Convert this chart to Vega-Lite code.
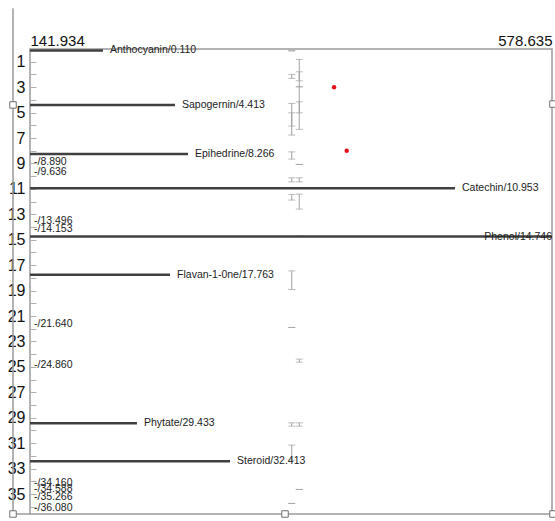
{
  "$schema": "https://vega.github.io/schema/vega-lite/v6.json",
  "width": 522,
  "height": 465,
  "autosize": {"type": "none"},
  "padding": {"left": 30, "top": 49, "right": 3, "bottom": 7},
  "background": "white",
  "config": {
    "view": {"stroke": "#9a9a9a", "strokeWidth": 1.5},
    "font": "Liberation Sans",
    "axis": {"labelOverlap": false, "labelBound": false}
  },
  "datasets": {
    "frame": [
      {"x": 127.712, "x2": 127.712, "y": -3.2, "y2": 36.57},
      {"x": 127.712, "x2": 141.934, "y": 36.57, "y2": 36.57}
    ],
    "handles": [
      {"x": 127.712, "y": 4.4},
      {"x": 127.712, "y": 36.57},
      {"x": 355.26, "y": 36.57},
      {"x": 579.47, "y": 36.57},
      {"x": 579.47, "y": 4.33}
    ],
    "peaks": [
      {"name": "Anthocyanin", "y": 0.110, "x": 203.0, "label": "Anthocyanin/0.110"},
      {"name": "Sapogernin", "y": 4.413, "x": 263.2, "label": "Sapogernin/4.413"},
      {"name": "Epihedrine", "y": 8.266, "x": 274.1, "label": "Epihedrine/8.266"},
      {"name": "Catechin", "y": 10.953, "x": 497.5, "label": "Catechin/10.953"},
      {"name": "Phenol", "y": 14.746, "x": 578.635, "label": "Phenol/14.746"},
      {"name": "Flavan-1-0ne", "y": 17.763, "x": 259.1, "label": "Flavan-1-0ne/17.763"},
      {"name": "Phytate", "y": 29.433, "x": 231.4, "label": "Phytate/29.433"},
      {"name": "Steroid", "y": 32.413, "x": 309.3, "label": "Steroid/32.413"}
    ],
    "minor": [
      {"y": 8.890, "label": "-/8.890"},
      {"y": 9.636, "label": "-/9.636"},
      {"y": 13.496, "label": "-/13.496"},
      {"y": 14.153, "label": "-/14.153"},
      {"y": 21.640, "label": "-/21.640"},
      {"y": 24.860, "label": "-/24.860"},
      {"y": 34.160, "label": "-/34.160"},
      {"y": 34.588, "label": "-/34.588"},
      {"y": 35.266, "label": "-/35.266"},
      {"y": 36.080, "label": "-/36.080"}
    ],
    "bars": [
      {"x": 360.9, "y": 0.14, "y2": 0.14},
      {"x": 360.9, "y": 2.00, "y2": 2.31},
      {"x": 360.9, "y": 4.28, "y2": 6.06},
      {"x": 360.9, "y": 5.02, "y2": 6.77},
      {"x": 360.9, "y": 8.09, "y2": 8.66},
      {"x": 360.9, "y": 10.13, "y2": 10.45},
      {"x": 360.9, "y": 11.44, "y2": 11.88},
      {"x": 360.9, "y": 17.45, "y2": 18.91},
      {"x": 360.9, "y": 21.90, "y2": 21.90},
      {"x": 360.9, "y": 29.40, "y2": 29.66},
      {"x": 360.9, "y": 31.15, "y2": 32.33},
      {"x": 360.9, "y": 35.74, "y2": 35.74},
      {"x": 367.2, "y": 0.82, "y2": 2.50},
      {"x": 367.2, "y": 1.79, "y2": 2.97},
      {"x": 367.2, "y": 2.97, "y2": 5.02},
      {"x": 367.2, "y": 4.15, "y2": 6.32},
      {"x": 367.2, "y": 9.08, "y2": 9.08},
      {"x": 367.2, "y": 10.13, "y2": 10.45},
      {"x": 367.2, "y": 11.41, "y2": 12.59},
      {"x": 367.2, "y": 14.72, "y2": 14.72},
      {"x": 367.2, "y": 24.39, "y2": 24.63},
      {"x": 367.2, "y": 29.40, "y2": 29.66},
      {"x": 367.2, "y": 34.64, "y2": 34.64}
    ],
    "dots": [
      {"x": 396.3, "y": 3.00},
      {"x": 406.9, "y": 8.01}
    ]
  },
  "layer": [
    {
      "data": {"name": "frame"},
      "mark": {"type": "rule", "color": "#9a9a9a", "strokeWidth": 1.5},
      "encoding": {
        "x": {
          "field": "x", "type": "quantitative",
          "scale": {"domain": [141.934, 578.635], "nice": false, "zero": false},
          "axis": {
            "orient": "top", "values": [141.934, 578.635], "format": ".3f",
            "labelFlush": true, "ticks": false, "domain": false, "grid": false,
            "labelFontSize": 15, "labelColor": "#111111", "labelPadding": 1,
            "title": null, "labelOverlap": false, "tickCount": 100
          }
        },
        "x2": {"field": "x2"},
        "y": {
          "field": "y", "type": "quantitative",
          "scale": {"domain": [0, 36.57], "nice": false, "zero": false, "reverse": true},
          "axis": {
            "values": [1,2,3,4,5,6,7,8,9,10,11,12,13,14,15,16,17,18,19,20,21,22,23,24,25,26,27,28,29,30,31,32,33,34,35,36],
            "tickCount": 100,
            "format": "d",
            "labelExpr": "datum.value % 2 == 1 ? datum.label : ''",
            "tickSize": -6, "tickColor": "#b0b0b0", "tickWidth": 1,
            "domain": false, "grid": false, "title": null,
            "labelFontSize": 16, "labelColor": "#111111", "labelPadding": 11,
            "labelOverlap": false
          }
        },
        "y2": {"field": "y2"}
      }
    },
    {
      "data": {"name": "bars"},
      "mark": {"type": "rule", "color": "#a0a0a0", "strokeWidth": 1},
      "encoding": {
        "x": {"field": "x", "type": "quantitative", "scale": {"domain": [141.934, 578.635], "nice": false, "zero": false}, "title": null},
        "y": {"field": "y", "type": "quantitative", "scale": {"domain": [0, 36.57], "nice": false, "zero": false, "reverse": true}, "title": null},
        "y2": {"field": "y2"}
      }
    },
    {
      "data": {"name": "bars"},
      "mark": {"type": "tick", "orient": "horizontal", "color": "#a0a0a0", "size": 7, "thickness": 1},
      "encoding": {
        "x": {"field": "x", "type": "quantitative", "scale": {"domain": [141.934, 578.635], "nice": false, "zero": false}, "title": null},
        "y": {"field": "y", "type": "quantitative", "scale": {"domain": [0, 36.57], "nice": false, "zero": false, "reverse": true}, "title": null}
      }
    },
    {
      "data": {"name": "bars"},
      "mark": {"type": "tick", "orient": "horizontal", "color": "#a0a0a0", "size": 7, "thickness": 1},
      "encoding": {
        "x": {"field": "x", "type": "quantitative", "scale": {"domain": [141.934, 578.635], "nice": false, "zero": false}, "title": null},
        "y": {"field": "y2", "type": "quantitative", "scale": {"domain": [0, 36.57], "nice": false, "zero": false, "reverse": true}, "title": null}
      }
    },
    {
      "data": {"name": "peaks"},
      "mark": {"type": "rule", "color": "#404040", "strokeWidth": 2.5},
      "encoding": {
        "x": {"field": "x", "type": "quantitative", "scale": {"domain": [141.934, 578.635], "nice": false, "zero": false}, "title": null},
        "x2": {"datum": 141.934},
        "y": {"field": "y", "type": "quantitative", "scale": {"domain": [0, 36.57], "nice": false, "zero": false, "reverse": true}, "title": null}
      }
    },
    {
      "data": {"name": "peaks"},
      "transform": [{"filter": "datum.name != 'Phenol'"}],
      "mark": {"type": "text", "align": "left", "baseline": "middle", "dx": 7, "fontSize": 10.5, "color": "#222222"},
      "encoding": {
        "x": {"field": "x", "type": "quantitative", "scale": {"domain": [141.934, 578.635], "nice": false, "zero": false}, "title": null},
        "y": {"field": "y", "type": "quantitative", "scale": {"domain": [0, 36.57], "nice": false, "zero": false, "reverse": true}, "title": null},
        "text": {"field": "label"}
      }
    },
    {
      "data": {"name": "peaks"},
      "transform": [{"filter": "datum.name == 'Phenol'"}],
      "mark": {"type": "text", "align": "right", "baseline": "middle", "dx": 0, "fontSize": 10.5, "color": "#222222"},
      "encoding": {
        "x": {"field": "x", "type": "quantitative", "scale": {"domain": [141.934, 578.635], "nice": false, "zero": false}, "title": null},
        "y": {"field": "y", "type": "quantitative", "scale": {"domain": [0, 36.57], "nice": false, "zero": false, "reverse": true}, "title": null},
        "text": {"field": "label"}
      }
    },
    {
      "data": {"name": "minor"},
      "mark": {"type": "text", "align": "left", "baseline": "middle", "dx": 4, "fontSize": 10.5, "color": "#222222"},
      "encoding": {
        "x": {"datum": 141.934, "type": "quantitative", "scale": {"domain": [141.934, 578.635], "nice": false, "zero": false}, "title": null},
        "y": {"field": "y", "type": "quantitative", "scale": {"domain": [0, 36.57], "nice": false, "zero": false, "reverse": true}, "title": null},
        "text": {"field": "label"}
      }
    },
    {
      "data": {"name": "dots"},
      "mark": {"type": "point", "filled": true, "color": "#e3121b", "size": 20, "opacity": 1},
      "encoding": {
        "x": {"field": "x", "type": "quantitative", "scale": {"domain": [141.934, 578.635], "nice": false, "zero": false}, "title": null},
        "y": {"field": "y", "type": "quantitative", "scale": {"domain": [0, 36.57], "nice": false, "zero": false, "reverse": true}, "title": null}
      }
    },
    {
      "data": {"name": "handles"},
      "mark": {"type": "point", "shape": "square", "filled": true, "fill": "white", "stroke": "#707070", "strokeWidth": 1, "size": 42, "opacity": 1},
      "encoding": {
        "x": {"field": "x", "type": "quantitative", "scale": {"domain": [141.934, 578.635], "nice": false, "zero": false}, "title": null},
        "y": {"field": "y", "type": "quantitative", "scale": {"domain": [0, 36.57], "nice": false, "zero": false, "reverse": true}, "title": null}
      }
    }
  ]
}
